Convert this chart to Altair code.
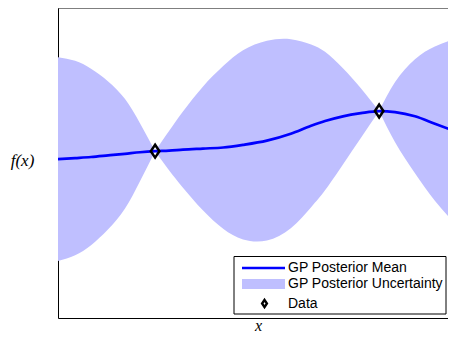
import altair as alt
import pandas as pd

# Values
x_grid = [0, 0.43, 0.83, 1.26, 1.68, 2.06, 2.44, 2.79, 3.14, 3.64, 4.15, 4.65,
          5.25, 5.85, 6.36, 6.71, 7.16, 7.61, 8.07, 8.47, 8.97, 9.47, 10]
mean_vals = [0.14, 0.16, 0.18, 0.21, 0.24, 0.27, 0.29, 0.30, 0.32, 0.34, 0.36, 0.41,
             0.49, 0.62, 0.77, 0.86, 0.95, 1.01, 1.05, 1.03, 0.95, 0.81, 0.66]
upper_vals = [2.07, 2.00, 1.85, 1.61, 1.28, 0.82, 0.29, 0.67, 1.04, 1.51, 1.90, 2.20,
              2.38, 2.41, 2.31, 2.17, 1.86, 1.48, 1.05, 1.60, 2.03, 2.27, 2.42]
lower_vals = [-1.79, -1.68, -1.49, -1.19, -0.80, -0.28, 0.29, -0.07, -0.40, -0.83, -1.18, -1.38,
              -1.40, -1.17, -0.77, -0.45, 0.04, 0.54, 1.05, 0.46, -0.13, -0.65, -1.10]
data_x = [2.44, 8.07]
data_y = [0.29, 1.05]
series_names = ["GP Posterior Mean", "GP Posterior Uncertainty", "Data"]

MEAN_COLOR = "#0000ff"
BAND_COLOR = "#bfbfff"
DIAMOND = "M0,-1.2L0.8,0L0,1.2L-0.8,0Z"
W, H = 390, 310
PX_PER_UNIT = 317 / 6.0

band_rows = []
for xv, lo, up in zip(x_grid, lower_vals, upper_vals):
    seg = 0 if xv <= data_x[0] else (1 if xv <= data_x[1] else 2)
    band_rows.append({"x": xv, "lo": lo, "up": up, "seg": seg})
    if xv in data_x:
        band_rows.append({"x": xv, "lo": lo, "up": up, "seg": seg + 1})
band_df = pd.DataFrame(band_rows)
mean_df = pd.DataFrame({"x": x_grid, "m": mean_vals})
pts_df = pd.DataFrame({"x": data_x, "y": data_y})

# the visible window ends slightly before the last sample (right side is cropped in the original)
xscale = alt.Scale(domain=[0, 9.8], nice=False, zero=False)
yscale = alt.Scale(domain=[3 - H / PX_PER_UNIT, 3], nice=False, zero=False)

xaxis = alt.Axis(title="x", labels=False, ticks=False, grid=False,
                 domain=True, domainColor="black", domainWidth=1,
                 titleFont="Liberation Serif", titleFontStyle="italic", titleFontWeight="normal",
                 titleFontSize=16, titleColor="black", titleX=200, titleY=12,
                 titleAlign="center", titleBaseline="alphabetic")
yaxis = alt.Axis(title="f(x)", labels=False, ticks=False, grid=False,
                 domain=True, domainColor="black", domainWidth=1,
                 titleFont="Liberation Serif", titleFontStyle="italic", titleFontWeight="normal",
                 titleFontSize=17, titleColor="black", titleAngle=0, titleX=-36, titleY=152,
                 titleAlign="center", titleBaseline="middle")

band = alt.Chart(band_df).mark_area(interpolate="natural", color=BAND_COLOR, opacity=1, clip=True).encode(
    x=alt.X("x:Q", scale=xscale, axis=xaxis),
    y=alt.Y("lo:Q", scale=yscale, axis=yaxis),
    y2="up:Q",
    detail="seg:N",
)
line = alt.Chart(mean_df).mark_line(interpolate="monotone", color=MEAN_COLOR, strokeWidth=2.7, clip=True).encode(
    x=alt.X("x:Q", scale=xscale),
    y=alt.Y("m:Q", scale=yscale),
)
pts = alt.Chart(pts_df).mark_point(shape=DIAMOND, size=115, filled=False, color="black",
                                   strokeWidth=2.5, opacity=1).encode(
    x=alt.X("x:Q", scale=xscale),
    y=alt.Y("y:Q", scale=yscale),
)

one = pd.DataFrame({"k": [0]})
# top edge of the axes box
top_edge = alt.Chart(one).mark_rule(color="black", strokeWidth=1).encode(
    x=alt.value(0), x2=alt.value(W), y=alt.value(0))

# Legend (MATLAB style box, lower right)
LX = 176
leg_box = alt.Chart(one).mark_rect(fill="white", stroke="black", strokeWidth=1).encode(
    x=alt.value(LX), x2=alt.value(LX + 212), y=alt.value(248.5), y2=alt.value(306))
leg_line = alt.Chart(one).mark_rule(color=MEAN_COLOR, strokeWidth=2.7).encode(
    x=alt.value(LX + 8), x2=alt.value(LX + 51), y=alt.value(260))
leg_patch = alt.Chart(one).mark_rect(fill=BAND_COLOR).encode(
    x=alt.value(LX + 8), x2=alt.value(LX + 51), y=alt.value(271), y2=alt.value(281))
leg_pt = alt.Chart(one).mark_point(shape=DIAMOND, size=36, filled=False, color="black",
                                   strokeWidth=2.4, opacity=1).encode(
    x=alt.value(LX + 30.5), y=alt.value(295.5))
leg_texts = []
for name, yy in zip(series_names, [260, 276, 295.5]):
    leg_texts.append(
        alt.Chart(one).mark_text(align="left", baseline="middle", font="Liberation Sans",
                                 fontSize=14, color="black").encode(
            x=alt.value(LX + 54), y=alt.value(yy), text=alt.value(name)))

chart = alt.layer(band, line, pts, top_edge, leg_box, leg_line, leg_patch, leg_pt, *leg_texts).properties(
    width=W, height=H,
    autosize=alt.AutoSizeParams(type="none"),
    padding={"left": 50, "top": 0, "right": 0, "bottom": 16},
    background="white",
).configure_view(stroke=None)

chart.save("out.html", embed_options={"renderer": "svg", "actions": False})
